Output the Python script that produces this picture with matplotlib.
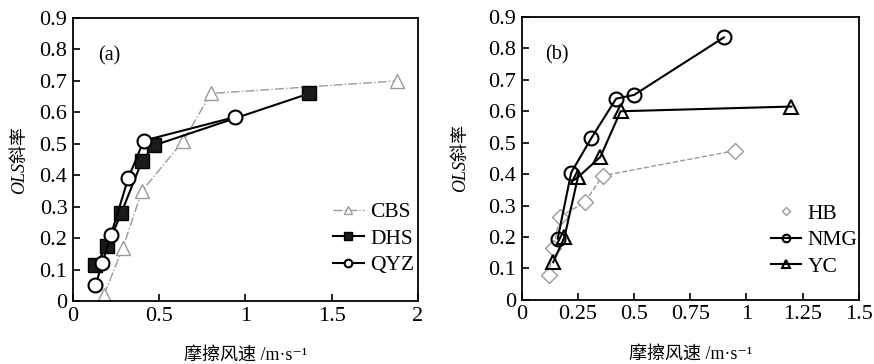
import matplotlib
matplotlib.use('Agg')
import matplotlib.pyplot as plt

plt.rcParams['font.family'] = ['Liberation Serif', 'Noto Sans CJK SC', 'DejaVu Serif']

# panel (a)
cbs_x = [0.18, 0.29, 0.40, 0.64, 0.80, 1.88]
cbs_y = [0.02, 0.17, 0.35, 0.51, 0.66, 0.70]
dhs_x = [0.13, 0.20, 0.28, 0.40, 0.47, 1.37]
dhs_y = [0.115, 0.175, 0.28, 0.445, 0.495, 0.66]
qyz_x = [0.13, 0.17, 0.22, 0.32, 0.41, 0.94]
qyz_y = [0.05, 0.12, 0.21, 0.39, 0.51, 0.585]

# panel (b)
hb_x = [0.12, 0.14, 0.17, 0.28, 0.36, 0.95]
hb_y = [0.08, 0.165, 0.265, 0.31, 0.395, 0.475]
nmg_x = [0.16, 0.22, 0.31, 0.42, 0.50, 0.90]
nmg_y = [0.195, 0.405, 0.515, 0.64, 0.652, 0.835]
yc_x = [0.14, 0.19, 0.25, 0.35, 0.44, 1.20]
yc_y = [0.12, 0.20, 0.39, 0.455, 0.60, 0.615]

y_ticks = [0, 0.1, 0.2, 0.3, 0.4, 0.5, 0.6, 0.7, 0.8, 0.9]
y_labels = ['0', '0.1', '0.2', '0.3', '0.4', '0.5', '0.6', '0.7', '0.8', '0.9']
xa_ticks = [0, 0.5, 1, 1.5, 2]
xa_labels = ['0', '0.5', '1', '1.5', '2']
xb_ticks = [0, 0.25, 0.5, 0.75, 1, 1.25, 1.5]
xb_labels = ['0', '0.25', '0.5', '0.75', '1', '1.25', '1.5']

GRAY = '#9a9a9a'

fig = plt.figure(figsize=(8.74, 3.64), dpi=100)
ax1 = fig.add_axes([0.0835, 0.173, 0.3947, 0.7775])
ax2 = fig.add_axes([0.597, 0.176, 0.3855, 0.7775])


def style_axes(ax, xt, xl, xmax, tag, ypad):
    ax.set_xlim(0, xmax)
    ax.set_ylim(0, 0.9)
    ax.set_xticks(xt)
    ax.set_xticklabels(xl)
    ax.set_yticks(y_ticks)
    ax.set_yticklabels(y_labels)
    ax.tick_params(direction='in', length=5, width=1.2, labelsize=16, pad=4)
    for s in ax.spines.values():
        s.set_linewidth(1.3)
    ax.set_xlabel('摩擦风速 /m·s⁻¹', fontsize=13, labelpad=15)
    ax.set_ylabel('OLS斜率', fontsize=13, labelpad=ypad, style='italic')
    ax.text(0.105, 0.865, tag, transform=ax.transAxes, fontsize=14.5,
            ha='center', va='center')


ax1.plot(cbs_x, cbs_y, '-.', color=GRAY, lw=1.0, marker='^', ms=10,
         mfc='white', mec=GRAY, mew=1.0, label='CBS')
ax1.plot(dhs_x, dhs_y, '-', color='black', lw=1.5, marker='s', ms=10,
         mfc='#1a1a1a', mec='black', label='DHS')
ax1.plot(qyz_x, qyz_y, '-', color='black', lw=1.5, marker='o', ms=10,
         mfc='white', mec='black', mew=1.5, label='QYZ')
style_axes(ax1, xa_ticks, xa_labels, 2, '(a)', 8)
ax1.legend(loc='upper left', bbox_to_anchor=(0.755, 0.35), frameon=False,
           fontsize=15.5, markerscale=0.55, handlelength=1.4, handletextpad=0.3,
           labelspacing=0.3, borderpad=0, borderaxespad=0)

ax2.plot(hb_x, hb_y, '--', color=GRAY, lw=1.0, marker='D', ms=8,
         mfc='white', mec=GRAY, mew=1.0, label='HB')
ax2.plot(nmg_x, nmg_y, '-', color='black', lw=1.5, marker='o', ms=10,
         mfc='none', mec='black', mew=1.5, label='NMG')
ax2.plot(yc_x, yc_y, '-', color='black', lw=1.5, marker='^', ms=10,
         mfc='none', mec='black', mew=1.5, label='YC')
style_axes(ax2, xb_ticks, xb_labels, 1.5, '(b)', 14)
leg = ax2.legend(loc='upper left', bbox_to_anchor=(0.74, 0.34), frameon=False,
                 fontsize=15.5, markerscale=0.55, handlelength=1.4,
                 handletextpad=0.3, labelspacing=0.3, borderpad=0,
                 borderaxespad=0)
leg.legend_handles[0].set_linestyle('none')

fig.savefig('out.png', dpi=100)
